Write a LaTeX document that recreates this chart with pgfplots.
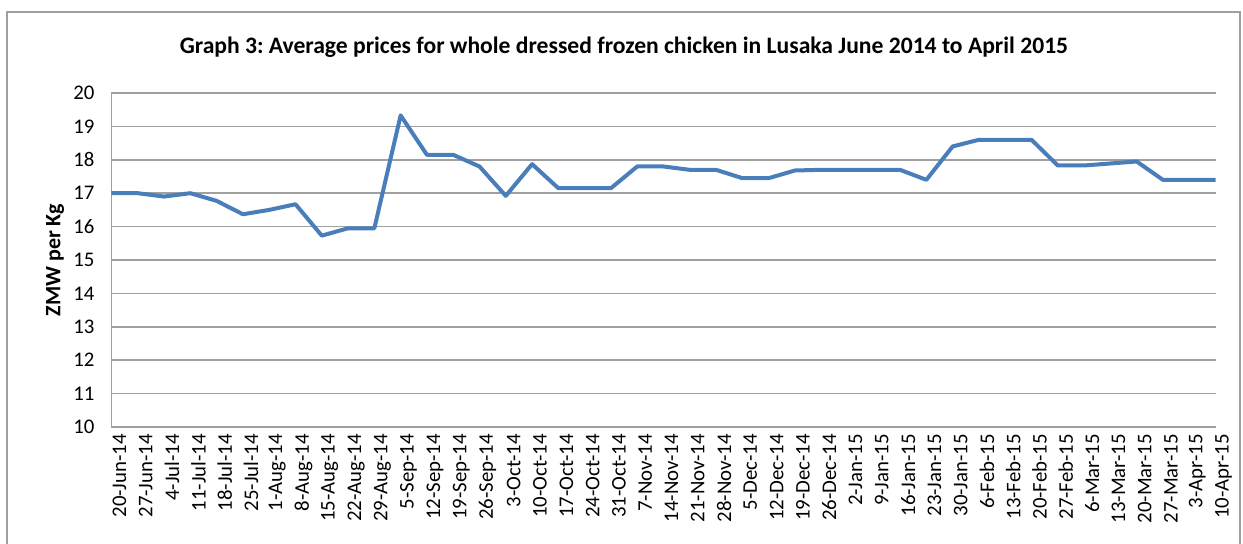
\documentclass[border=0pt]{standalone}
\usepackage{pgfplots}
\pgfplotsset{compat=1.18}
\usepackage{fontspec}
\setmainfont{Carlito}
\definecolor{linecol}{RGB}{74,126,187}
\definecolor{gridcol}{RGB}{160,160,160}

\pgfplotstableread{
idx price
0 17.00
1 17.00
2 16.90
3 17.00
4 16.77
5 16.37
6 16.50
7 16.67
8 15.73
9 15.95
10 15.95
11 19.33
12 18.15
13 18.15
14 17.80
15 16.92
16 17.87
17 17.15
18 17.15
19 17.15
20 17.80
21 17.80
22 17.70
23 17.70
24 17.45
25 17.45
26 17.68
27 17.70
28 17.70
29 17.70
30 17.70
31 17.40
32 18.40
33 18.60
34 18.60
35 18.60
36 17.83
37 17.83
38 17.89
39 17.95
40 17.40
41 17.40
42 17.40
}\prices

\begin{document}
\frenchspacing
\begin{tikzpicture}
% page size and outer chart frame
\path[use as bounding box] (-55.75pt,-58pt) rectangle (565.75pt,213.5pt);
\draw[gridcol, line width=0.8pt] (-52.25pt,-60pt) -- (-52.25pt,207.5pt) -- (564.25pt,207.5pt) -- (564.25pt,-60pt);
\begin{axis}[
    at={(0,0)}, anchor=south west,
    scale only axis,
    width=552pt, height=167pt,
    xmin=0, xmax=42,
    ymin=10, ymax=20,
    ytick={10,11,...,20},
    xtick={0,...,42},
    xticklabels={20-Jun-14,27-Jun-14,4-Jul-14,11-Jul-14,18-Jul-14,25-Jul-14,1-Aug-14,8-Aug-14,15-Aug-14,22-Aug-14,29-Aug-14,5-Sep-14,12-Sep-14,19-Sep-14,26-Sep-14,3-Oct-14,10-Oct-14,17-Oct-14,24-Oct-14,31-Oct-14,7-Nov-14,14-Nov-14,21-Nov-14,28-Nov-14,5-Dec-14,12-Dec-14,19-Dec-14,26-Dec-14,2-Jan-15,9-Jan-15,16-Jan-15,23-Jan-15,30-Jan-15,6-Feb-15,13-Feb-15,20-Feb-15,27-Feb-15,6-Mar-15,13-Mar-15,20-Mar-15,27-Mar-15,3-Apr-15,10-Apr-15},
    axis x line*=bottom, axis y line*=left,
    axis line style={gridcol, line width=0.8pt, -},
    ymajorgrids, grid style={gridcol, line width=0.8pt},
    major tick length=0pt,
    /pgf/number format/assume math mode=true,
    ticklabel style={font=\fontsize{10.4}{12}\selectfont},
    xticklabel style={rotate=90, anchor=east, xshift=0pt, yshift=-4pt},
    yticklabel style={xshift=-5pt},
    clip=false,
]
\addplot[linecol, line width=2pt, line join=round] table[x=idx, y=price] {\prices};
\end{axis}
\node[font=\bfseries\fontsize{11.8}{14}\selectfont] at (256.25pt,190pt) {Graph 3: Average prices for whole dressed frozen chicken in Lusaka June 2014 to April 2015};
\node[font=\bfseries\fontsize{11}{13}\selectfont, rotate=90] at (-28.25pt,83.5pt) {ZMW per Kg};
\end{tikzpicture}
\end{document}
